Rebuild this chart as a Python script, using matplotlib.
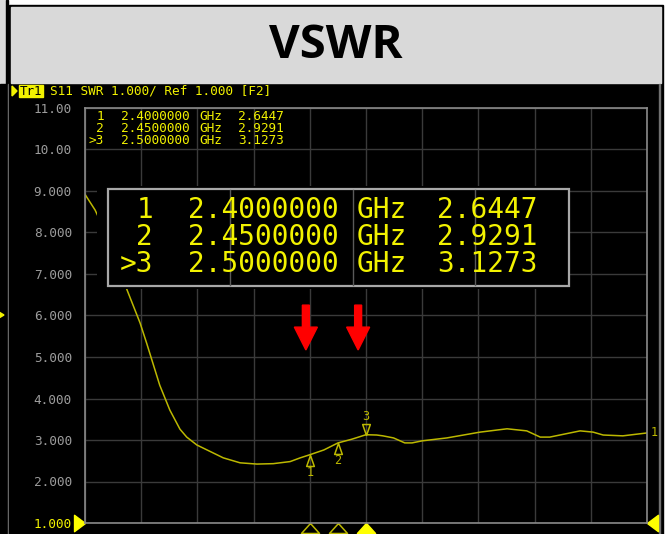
import matplotlib.pyplot as plt
from matplotlib.patches import Rectangle, Polygon
from matplotlib.path import Path

# S11 trace
freq_ghz = [2.000, 2.018, 2.040, 2.060, 2.075, 2.098, 2.110, 2.133, 2.151, 2.169,
            2.181, 2.199, 2.246, 2.276, 2.306, 2.335, 2.365, 2.383, 2.400, 2.425,
            2.450, 2.475, 2.500, 2.519, 2.530, 2.549, 2.569, 2.582, 2.600, 2.644,
            2.703, 2.751, 2.786, 2.810, 2.827, 2.881, 2.904, 2.922, 2.957, 3.000]
vswr = [8.92, 8.54, 7.90, 7.15, 6.61, 5.82, 5.32, 4.32, 3.72, 3.26,
        3.07, 2.88, 2.57, 2.45, 2.42, 2.43, 2.48, 2.57, 2.6447, 2.76,
        2.9291, 3.02, 3.1273, 3.12, 3.10, 3.05, 2.93, 2.93, 2.98, 3.05,
        3.19, 3.27, 3.22, 3.07, 3.07, 3.22, 3.19, 3.12, 3.10, 3.17]

marker_ids = ["1", "2", "3"]
marker_freq = [2.40, 2.45, 2.50]
marker_vswr = [2.6447, 2.9291, 3.1273]
active_marker = 2

y_ticks = [11, 10, 9, 8, 7, 6, 5, 4, 3, 2, 1]
y_tick_labels = ["11.00", "10.00", "9.000", "8.000", "7.000", "6.000",
                 "5.000", "4.000", "3.000", "2.000", "1.000"]
x_grid = [2.0, 2.1, 2.2, 2.3, 2.4, 2.5, 2.6, 2.7, 2.8, 2.9, 3.0]

arrow_freq = [2.393, 2.486]

header = "S11 SWR 1.000/ Ref 1.000 [F2]"
title = "VSWR"

TRACE = "#bcb800"
YEL = "#f2f200"
MONO = "DejaVu Sans Mono"

fig = plt.figure(figsize=(6.68, 5.34), dpi=100)

# background layer in pixel coordinates
bg = fig.add_axes([0, 0, 1, 1])
bg.set_xlim(0, 668)
bg.set_ylim(534, 0)
bg.axis("off")
bg.add_patch(Rectangle((0, 0), 668, 534, color="white"))
bg.add_patch(Rectangle((0, 0), 6, 84, color="#d9d9d9"))
bg.add_patch(Rectangle((0, 84), 8, 450, color="black"))
bg.add_patch(Rectangle((6, 0), 1.5, 534, color="black"))
bg.add_patch(Rectangle((8, 84), 1, 450, color="#808080"))
bg.add_patch(Rectangle((9, 5), 654, 529, color="black"))
bg.add_patch(Rectangle((11, 7), 650, 76, color="#d9d9d9"))
bg.add_patch(Rectangle((659, 84), 1, 450, color="#707070"))
bg.text(336, 46, title, fontsize=34, fontweight="bold", family="Open Sans",
        ha="center", va="center", color="black")

# header line
bg.add_patch(Polygon([(12, 86), (17, 91), (12, 96)], color=YEL))
bg.add_patch(Rectangle((19, 85), 24, 12, color=YEL))
bg.text(31, 91.5, "Tr1", family=MONO, fontsize=9, color="black",
        ha="center", va="center")
bg.text(50, 91.5, header, family=MONO, fontsize=9.2, color=YEL,
        ha="left", va="center")
bg.add_patch(Polygon([(-6, 309), (4, 315), (-6, 321)], color=YEL))

# trace area
ax = fig.add_axes([85 / 668, 11 / 534, 562 / 668, 415 / 534])
ax.set_facecolor("black")
ax.set_xlim(2.0, 3.0)
ax.set_ylim(1, 11)
ax.set_xticks(x_grid)
ax.set_xticklabels([])
ax.set_yticks(y_ticks, y_tick_labels)
ax.tick_params(length=0)
ax.tick_params(axis="y", pad=9.5, labelsize=9.2, labelcolor="#9c9c9c")
for lab in ax.get_yticklabels():
    lab.set_family(MONO)
ax.get_yticklabels()[-1].set_color(YEL)
ax.grid(True, color="#3a3a3a", lw=1)
for sp in ax.spines.values():
    sp.set_color("#8a8a8a")
    sp.set_linewidth(1.2)

ax.plot(freq_ghz, vswr, color=TRACE, lw=1.1)

tri_up = Path([(0, 0), (-0.35, -1), (0.35, -1), (0, 0)])
tri_dn = Path([(0, 0), (-0.35, 1), (0.35, 1), (0, 0)])
base_tri = Path([(0, 0), (-0.9, -1), (0.9, -1), (0, 0)])
for i, (mid, f, v) in enumerate(zip(marker_ids, marker_freq, marker_vswr)):
    above = i == active_marker
    ax.plot(f, v, marker=tri_dn if above else tri_up, ms=15.8,
            mfc="none", mec=TRACE, mew=1.1)
    ax.annotate(mid, (f, v), xytext=(0, 13 if above else -13),
                textcoords="offset points", ha="center", va="center",
                family=MONO, fontsize=8.5, color=TRACE)
    ax.plot(f, 1, marker=base_tri, ms=14.4, clip_on=False,
            mfc="#ffff00" if above else "none",
            mec="#ffff00" if above else TRACE, mew=1.1)

ax.plot(2.0, 1, marker=Path([(0, 0), (-1, 0.75), (-1, -0.75), (0, 0)]),
        ms=15.8, color="#ffff00", clip_on=False)
ax.plot(3.0, 1, marker=Path([(0, 0), (1, 0.75), (1, -0.75), (0, 0)]),
        ms=15.8, color="#ffff00", clip_on=False)
ax.annotate("1", (freq_ghz[-1], vswr[-1]), xytext=(5, 0),
            textcoords="offset points", ha="center", va="center",
            family=MONO, fontsize=8.5, color=TRACE, annotation_clip=False)

# red arrows pointing at the band markers
for f in arrow_freq:
    ax.add_patch(Polygon([(f - 0.0062, 6.25), (f + 0.0062, 6.25),
                          (f + 0.0062, 5.72), (f + 0.0205, 5.72),
                          (f, 5.17), (f - 0.0205, 5.72),
                          (f - 0.0062, 5.72)], color="#ff0000", zorder=6))

# overlay layer: marker readouts
ov = fig.add_axes([0, 0, 1, 1])
ov.set_xlim(0, 668)
ov.set_ylim(534, 0)
ov.axis("off")
ov.patch.set_alpha(0)

rows_small = [116, 128, 140]
rows_big = [210, 237, 264]
for i, (mid, f, v) in enumerate(zip(marker_ids, marker_freq, marker_vswr)):
    idx = (">" if i == active_marker else "") + mid
    ov.text(104, rows_small[i], idx, family=MONO, fontsize=9.2, color=YEL,
            ha="right", va="center")
    ov.text(121, rows_small[i], f"{f:.7f}", family=MONO, fontsize=9.2,
            color=YEL, ha="left", va="center")
    ov.text(199, rows_small[i], "GHz", family=MONO, fontsize=9.2, color=YEL,
            ha="left", va="center")
    ov.text(238, rows_small[i], f"{v:.4f}", family=MONO, fontsize=9.2,
            color=YEL, ha="left", va="center")

# big readout window (opaque, with a black margin on the left)
ov.add_patch(Rectangle((97, 186), 472, 103, facecolor="black", lw=0))
ov.add_patch(Rectangle((108, 189), 461, 97, facecolor="black",
                       edgecolor="#a8a8a8", lw=1.6))
for x in [230, 353, 475]:
    ov.plot([x, x], [190, 285], color="#5a5a5a", lw=1)
for i, (mid, f, v) in enumerate(zip(marker_ids, marker_freq, marker_vswr)):
    idx = (">" if i == active_marker else "") + mid
    ov.text(153, rows_big[i], idx, family=MONO, fontsize=20, color=YEL,
            ha="right", va="center")
    ov.text(188, rows_big[i], f"{f:.7f}", family=MONO, fontsize=20,
            color=YEL, ha="left", va="center")
    ov.text(357, rows_big[i], "GHz", family=MONO, fontsize=20, color=YEL,
            ha="left", va="center")
    ov.text(437, rows_big[i], f"{v:.4f}", family=MONO, fontsize=20,
            color=YEL, ha="left", va="center")

fig.savefig("out.png", dpi=100)
